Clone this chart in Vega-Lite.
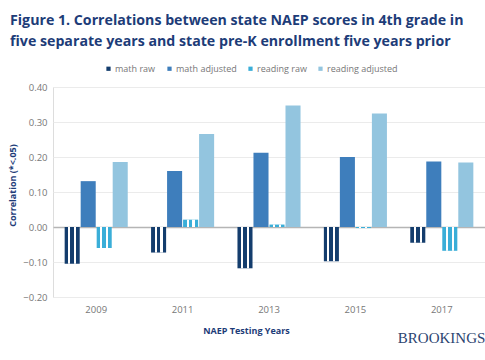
{
  "$schema": "https://vega.github.io/schema/vega-lite/v6.json",
  "width": 432,
  "height": 210,
  "autosize": {"type": "none"},
  "padding": {"left": 53, "top": 87, "right": 0, "bottom": 63},
  "background": "white",
  "title": {
    "text": ["Figure 1. Correlations between state NAEP scores in 4th grade in", "five separate years and state pre-K enrollment five years prior"],
    "anchor": "start",
    "frame": "group",
    "dx": -43,
    "offset": 15,
    "font": "Open Sans",
    "fontSize": 14.2,
    "fontWeight": "bold",
    "color": "#1d3c78",
    "lineHeight": 21
  },
  "data": {
    "values": [
      {"year": "2009", "series": "math raw", "r": -0.105},
      {"year": "2009", "series": "math adjusted", "r": 0.131},
      {"year": "2009", "series": "reading raw", "r": -0.06},
      {"year": "2009", "series": "reading adjusted", "r": 0.186},
      {"year": "2011", "series": "math raw", "r": -0.073},
      {"year": "2011", "series": "math adjusted", "r": 0.16},
      {"year": "2011", "series": "reading raw", "r": 0.021},
      {"year": "2011", "series": "reading adjusted", "r": 0.266},
      {"year": "2013", "series": "math raw", "r": -0.118},
      {"year": "2013", "series": "math adjusted", "r": 0.212},
      {"year": "2013", "series": "reading raw", "r": 0.007},
      {"year": "2013", "series": "reading adjusted", "r": 0.347},
      {"year": "2015", "series": "math raw", "r": -0.098},
      {"year": "2015", "series": "math adjusted", "r": 0.2},
      {"year": "2015", "series": "reading raw", "r": -0.003},
      {"year": "2015", "series": "reading adjusted", "r": 0.324},
      {"year": "2017", "series": "math raw", "r": -0.045},
      {"year": "2017", "series": "math adjusted", "r": 0.187},
      {"year": "2017", "series": "reading raw", "r": -0.068},
      {"year": "2017", "series": "reading adjusted", "r": 0.184}
    ]
  },
  "encoding": {
    "x": {
      "field": "year", "type": "nominal",
      "scale": {"paddingInner": 0.27, "paddingOuter": 0.135},
      "axis": {
        "title": "NAEP Testing Years",
        "labelAngle": 0,
        "domain": false,
        "ticks": false,
        "labelPadding": 7,
        "labelFont": "Open Sans",
        "labelFontSize": 9.5,
        "labelColor": "#777777",
        "titleFont": "Open Sans",
        "titleFontSize": 9,
        "titleFontWeight": "bold",
        "titleColor": "#1d3c78",
        "titleX": 193,
        "titleY": 36,
        "titleBaseline": "alphabetic"
      }
    },
    "y": {
      "field": "r", "type": "quantitative",
      "scale": {"domain": [-0.2, 0.4], "nice": false},
      "axis": {
        "title": "Correlation (*<.05)",
        "values": [-0.2, -0.1, 0, 0.1, 0.2, 0.3, 0.4],
        "format": ".2f",
        "domain": false,
        "ticks": false,
        "labelPadding": 6,
        "labelFont": "Open Sans",
        "labelFontSize": 9.5,
        "labelColor": "#777777",
        "gridColor": {"condition": {"test": "datum.value === 0", "value": "#b5b5b5"}, "value": "#ebebeb"},
        "gridWidth": {"condition": {"test": "datum.value === 0", "value": 1.5}, "value": 1.2},
        "titleFont": "Open Sans",
        "titleFontSize": 9,
        "titleFontWeight": "bold",
        "titleColor": "#1d3c78",
        "titleX": -38,
        "titleY": 98,
        "titleAngle": -90,
        "titleAlign": "center",
        "titleBaseline": "alphabetic"
      }
    }
  },
  "layer": [
    {
      "mark": {"type": "bar"},
      "encoding": {
        "xOffset": {"field": "series", "type": "nominal", "sort": ["math raw", "math adjusted", "reading raw", "reading adjusted"], "scale": {"domain": ["math raw", "math adjusted", "reading raw", "reading adjusted"], "paddingInner": 0.06}},
        "color": {
          "field": "series", "type": "nominal",
          "scale": {"domain": ["math raw", "math adjusted", "reading raw", "reading adjusted"], "range": ["#143d6d", "#3e7ebc", "#3aaed8", "#93c5df"]},
          "legend": {
            "title": null,
            "orient": "none",
            "direction": "horizontal",
            "legendX": 51,
            "legendY": -23,
            "symbolType": "square",
            "symbolSize": 18,
            "symbolStrokeWidth": 0,
            "labelFont": "Open Sans",
            "labelFontSize": 9,
            "labelColor": "#777777",
            "labelOffset": 2,
            "columnPadding": 9,
            "padding": 0
          }
        }
      }
    },
    {
      "transform": [{"filter": "datum.series === 'math raw' || datum.series === 'reading raw'"}],
      "mark": {
        "type": "bar",
        "fill": {
          "gradient": "linear", "x1": 0, "x2": 1, "y1": 0, "y2": 0,
          "stops": [
            {"offset": 0, "color": "rgba(255,255,255,0)"},
            {"offset": 0.23, "color": "rgba(255,255,255,0)"},
            {"offset": 0.23, "color": "#ffffff"},
            {"offset": 0.37, "color": "#ffffff"},
            {"offset": 0.37, "color": "rgba(255,255,255,0)"},
            {"offset": 0.62, "color": "rgba(255,255,255,0)"},
            {"offset": 0.62, "color": "#ffffff"},
            {"offset": 0.76, "color": "#ffffff"},
            {"offset": 0.76, "color": "rgba(255,255,255,0)"},
            {"offset": 1, "color": "rgba(255,255,255,0)"}
          ]
        }
      },
      "encoding": {
        "xOffset": {"field": "series", "type": "nominal", "scale": {"domain": ["math raw", "math adjusted", "reading raw", "reading adjusted"], "paddingInner": 0.06}}
      }
    },
    {
      "data": {"values": [{"year": "2017", "r": -0.2, "logo": "BROOKINGS"}]},
      "mark": {"type": "text", "font": "Liberation Serif", "fontSize": 15, "fill": "#2c4470", "align": "left", "baseline": "alphabetic", "dx": -44, "dy": 46},
      "encoding": {
        "text": {"field": "logo", "type": "nominal"}
      }
    }
  ]
}
